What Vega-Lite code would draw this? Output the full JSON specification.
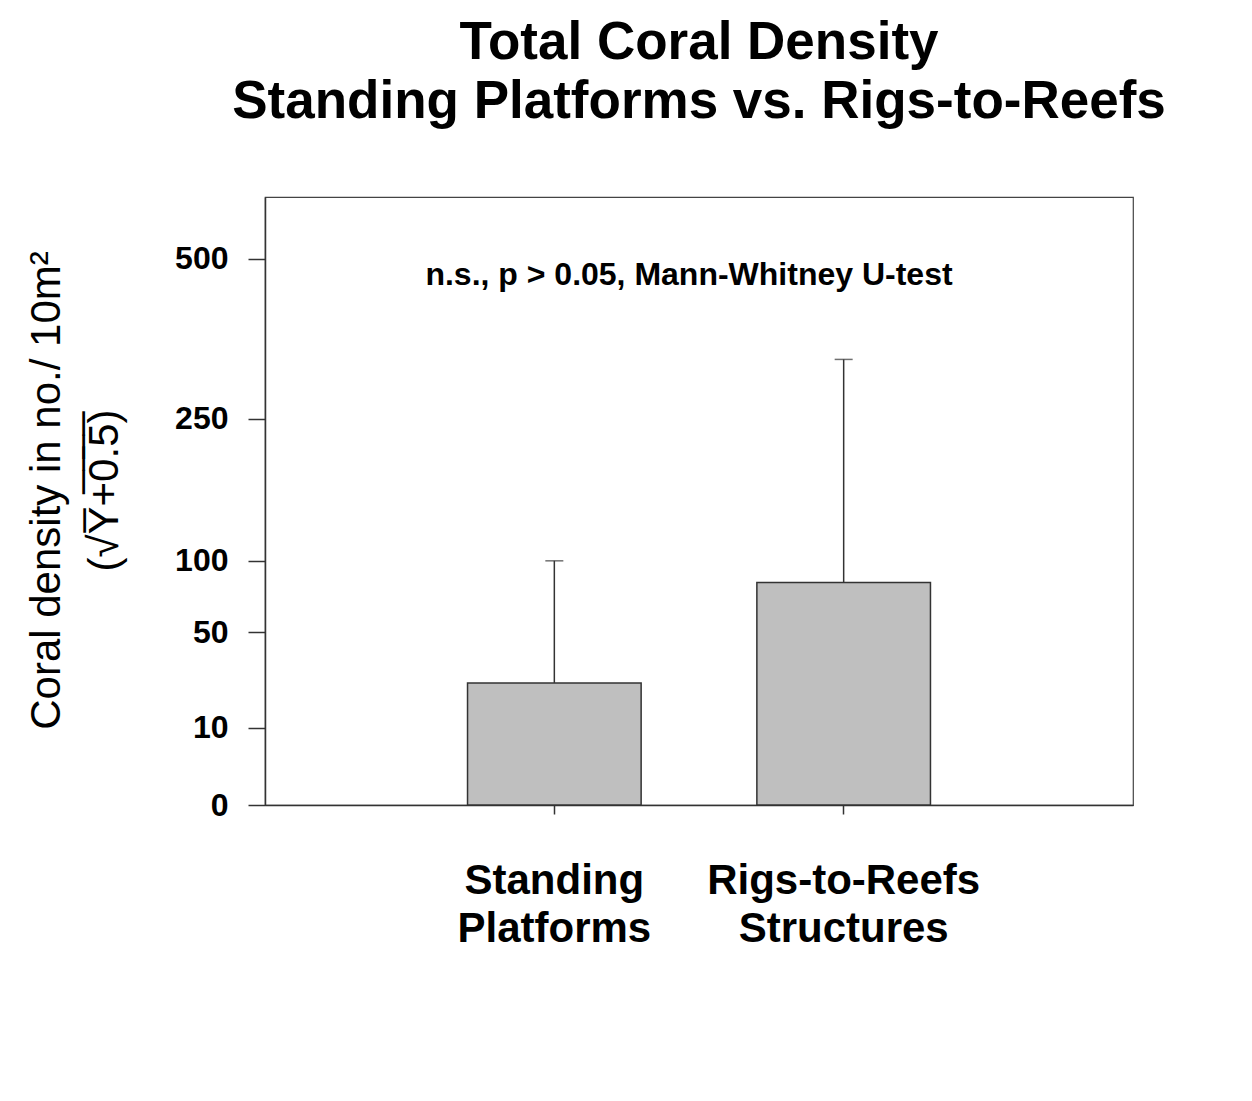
{
  "$schema": "https://vega.github.io/schema/vega-lite/v6.json",
  "autosize": "none",
  "width": 868,
  "height": 608,
  "padding": {"left": 265, "top": 197, "right": 119, "bottom": 296},
  "background": "white",
  "config": {
    "font": "Liberation Sans",
    "view": {"stroke": "#444", "strokeWidth": 1.2},
    "axis": {"domainColor": "#333", "domainWidth": 1.5, "tickColor": "#333", "tickWidth": 1.5, "grid": false, "labelColor": "black", "titleColor": "black"}
  },
  "title": {
    "text": ["Total Coral Density", "Standing Platforms vs. Rigs-to-Reefs"],
    "fontSize": 53,
    "fontWeight": "bold",
    "font": "Liberation Sans",
    "lineHeight": 59,
    "anchor": "middle",
    "offset": 68,
    "color": "black"
  },
  "data": {
    "values": [
      {"group": "Standing Platforms", "mean": 25, "upper": 100},
      {"group": "Rigs-to-Reefs Structures", "mean": 83, "upper": 333}
    ]
  },
  "layer": [
    {
      "mark": {"type": "bar", "fill": "#bfbfbf", "stroke": "#333", "strokeWidth": 1.5},
      "encoding": {
        "x": {
          "field": "group", "type": "nominal", "sort": null,
          "scale": {"paddingInner": 0.4, "paddingOuter": 0.7},
          "axis": {
            "title": null, "labelAngle": 0, "labelFontSize": 42, "labelFontWeight": "bold",
            "labelExpr": "split(datum.label, ' ')", "labelLineHeight": 48, "labelPadding": 46,
            "tickSize": 9, "labelBaseline": "top", "labelLimit": 0, "labelDx": 7
          }
        },
        "y": {
          "field": "mean", "type": "quantitative",
          "scale": {"type": "sqrt", "domain": [0, 620], "nice": false},
          "axis": {
            "values": [0, 10, 50, 100, 250, 500],
            "labelFontSize": 32, "labelFontWeight": "bold", "tickSize": 17, "labelPadding": 20,
            "title": ["Coral density in no./ 10m²", "(√Y̅+̅0̅.̅5̅)"],
            "titleFontSize": 42, "titleFontWeight": "normal", "titleLineHeight": 58, "titlePadding": 48,
            "titleY": 293
          }
        }
      }
    },
    {
      "mark": {"type": "rule", "color": "#333", "strokeWidth": 1.5},
      "encoding": {
        "x": {"field": "group", "type": "nominal", "sort": null},
        "y": {"field": "mean", "type": "quantitative"},
        "y2": {"field": "upper"}
      }
    },
    {
      "mark": {"type": "tick", "color": "#333", "size": 18, "thickness": 1.5, "orient": "horizontal"},
      "encoding": {
        "x": {"field": "group", "type": "nominal", "sort": null},
        "y": {"field": "upper", "type": "quantitative"}
      }
    },
    {
      "data": {"values": [{"note": "n.s., p > 0.05, Mann-Whitney U-test", "ypos": 472}]},
      "mark": {"type": "text", "fontSize": 32, "fontWeight": "bold", "color": "black", "dx": -10},
      "encoding": {
        "text": {"field": "note"},
        "y": {"field": "ypos", "type": "quantitative"}
      }
    }
  ]
}
